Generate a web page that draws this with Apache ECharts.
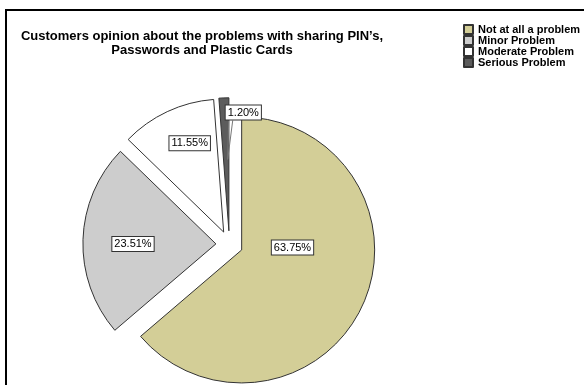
<!DOCTYPE html>
<html>
<head>
<meta charset="utf-8">
<script src="https://cdn.jsdelivr.net/npm/echarts@6/dist/echarts.min.js"></script>
<style>
  html, body { margin: 0; padding: 0; background: #fff; }
  #chart { width: 584px; height: 385px; }
</style>
</head>
<body>
<div id="chart"></div>
<script>
// Survey answers and their shares (percent)
const categories = ['Not at all a problem', 'Minor Problem', 'Moderate Problem', 'Serious Problem'];
const shares = [63.75, 23.51, 11.55, 1.20];

// Slice fills, in category order
const sliceColors = ['#d3ce97', '#cdcdcd', '#ffffff', '#5c5c5c'];

// Where each value box sits (x, y of its centre)
const labelSpots = [[292.5, 247.5], [133, 244], [189.7, 143.3], [243.3, 112.5]];

const pieCenter = [229.4, 244.3];
const pieRadius = 133;
const font = 'Arial, "Liberation Sans", sans-serif';

const chart = echarts.init(document.getElementById('chart'), null, { renderer: 'canvas' });

// Exploded slices
const sliceData = categories.map((name, i) => ({
  name: name,
  value: shares[i],
  selected: true,
  itemStyle: { color: sliceColors[i] }
}));

// Same values again, carrying only the boxed percentage labels
const labelData = categories.map((name, i) => ({
  name: name,
  value: shares[i],
  label: { position: i === 3 ? 'outside' : 'inside' },
  labelLine: { show: i === 3 }
}));

chart.setOption({
  animation: false,
  backgroundColor: '#ffffff',
  title: {
    text: 'Customers opinion about the problems with sharing PIN\u2019s,\nPasswords and Plastic Cards',
    left: 202,
    top: 29,
    padding: 0,
    textAlign: 'center',
    textStyle: {
      fontFamily: font,
      fontSize: 13,
      fontWeight: 'bold',
      lineHeight: 14,
      color: '#000'
    }
  },
  legend: {
    orient: 'vertical',
    left: 463,
    top: 24,
    padding: 0,
    itemWidth: 9,
    itemHeight: 9,
    itemGap: 0,
    icon: 'rect',
    selectedMode: false,
    data: categories,
    textStyle: {
      fontFamily: font,
      fontSize: 11,
      fontWeight: 'bold',
      lineHeight: 10.3,
      color: '#000'
    }
  },
  graphic: [{
    type: 'rect',
    shape: { x: 6, y: 10, width: 700, height: 500 },
    style: { fill: 'none', stroke: '#000', lineWidth: 2 },
    silent: true,
    z: 100
  }],
  series: [{
    type: 'pie',
    center: pieCenter,
    radius: pieRadius,
    startAngle: 90,
    clockwise: true,
    selectedMode: 'multiple',
    selectedOffset: 13.5,
    emphasis: { disabled: true },
    itemStyle: { borderColor: '#333', borderWidth: 1 },
    select: { itemStyle: { borderColor: '#333', borderWidth: 1 } },
    label: { show: false },
    labelLine: { show: false },
    data: sliceData
  }, {
    type: 'pie',
    legendHoverLink: false,
    silent: true,
    center: pieCenter,
    radius: pieRadius,
    startAngle: 90,
    clockwise: true,
    selectedMode: false,
    avoidLabelOverlap: false,
    emphasis: { disabled: true },
    itemStyle: { color: 'rgba(0,0,0,0)', borderWidth: 0 },
    z: 3,
    label: {
      show: true,
      formatter: p => p.value.toFixed(2) + '%',
      fontFamily: font,
      fontSize: 11,
      color: '#000',
      backgroundColor: '#fff',
      borderColor: '#333',
      borderWidth: 1,
      padding: [2, 2, 1, 2]
    },
    labelLine: {
      show: false,
      lineStyle: { color: '#777', width: 1 }
    },
    labelLayout: params => {
      const spot = labelSpots[params.dataIndex];
      const out = { x: spot[0], y: spot[1], align: 'center', verticalAlign: 'middle' };
      if (params.dataIndex === 3) {
        // thin pointer from the box down onto the narrow slice
        const w = params.labelRect.width;
        const h = params.labelRect.height;
        const left = spot[0] - w / 2;
        const bottom = spot[1] + h / 2;
        out.labelLinePoints = [[left + 4, bottom], [left + 3, bottom + 39], [left + 8, bottom]];
      }
      return out;
    },
    data: labelData
  }]
});
</script>
</body>
</html>
